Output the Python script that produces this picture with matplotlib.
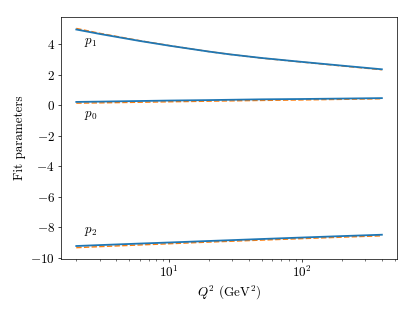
import numpy as np
import matplotlib
matplotlib.use('Agg')
import matplotlib.pyplot as plt

plt.rcParams['font.family'] = 'serif'
plt.rcParams['font.serif'] = ['cmr10']
plt.rcParams['mathtext.fontset'] = 'cm'
plt.rcParams['axes.formatter.use_mathtext'] = True
plt.rcParams['font.size'] = 14.5

# Q^2 grid (GeV^2) and fit parameters
q2 = [2, 3, 6, 10, 20, 28.6, 50, 96, 200, 400]
p1_fit = [4.97, 4.68, 4.22, 3.91, 3.52, 3.34, 3.10, 2.86, 2.60, 2.36]
p1_alt = [5.04, 4.72, 4.24, 3.92, 3.52, 3.34, 3.09, 2.85, 2.58, 2.33]
p0_fit = [0.22, 0.24, 0.28, 0.31, 0.34, 0.36, 0.39, 0.41, 0.44, 0.47]
p0_alt = [0.14, 0.16, 0.20, 0.23, 0.27, 0.29, 0.32, 0.35, 0.39, 0.43]
p2_fit = [-9.23, -9.17, -9.07, -9.00, -8.90, -8.85, -8.77, -8.68, -8.58, -8.49]
p2_alt = [-9.34, -9.27, -9.16, -9.08, -8.97, -8.92, -8.84, -8.75, -8.65, -8.56]

labels = [r'$p_1$', r'$p_0$', r'$p_2$']
label_y = [4.1, -0.7, -8.25]

fig, ax = plt.subplots(figsize=(415/65, 312/65), dpi=65)
fig.subplots_adjust(left=0.147, right=0.957, top=0.944, bottom=0.171)

for alt in [p1_alt, p0_alt, p2_alt]:
    ax.plot(q2, alt, color='C1', ls='--', lw=1.6)
for fit in [p1_fit, p0_fit, p2_fit]:
    ax.plot(q2, fit, color='C0', lw=2)

for lab, y in zip(labels, label_y):
    ax.text(2.3, y, lab, va='center', ha='left')

ax.set_xscale('log')
ax.set_yticks([-10, -8, -6, -4, -2, 0, 2, 4])
ax.set_xlabel(r'$Q^2$ (GeV$^2$)')
ax.set_ylabel('Fit parameters')

fig.savefig('out.png', dpi=65)
